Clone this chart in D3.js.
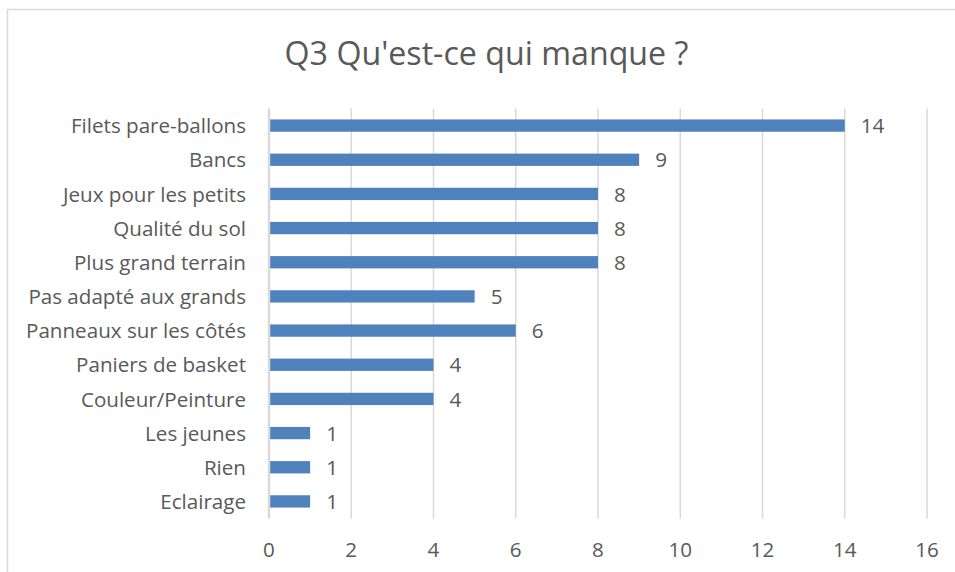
<!DOCTYPE html>
<html>
<head>
<meta charset="utf-8">
<script src="https://cdn.jsdelivr.net/npm/d3@7"></script>
<style>
  body { margin: 0; background: #fff; }
  svg text { font-family: "Open Sans", sans-serif; fill: #595959; }
</style>
</head>
<body>
<div id="chart"></div>
<script>
const categories = ["Filets pare-ballons", "Bancs", "Jeux pour les petits", "Qualité du sol",
  "Plus grand terrain", "Pas adapté aux grands", "Panneaux sur les côtés", "Paniers de basket",
  "Couleur/Peinture", "Les jeunes", "Rien", "Eclairage"];
const counts = [14, 9, 8, 8, 8, 5, 6, 4, 4, 1, 1, 1];
const xTicks = [0, 2, 4, 6, 8, 10, 12, 14, 16];
const title = "Q3 Qu'est-ce qui manque ?";

const W = 955, H = 572;
const plot = {left: 269, right: 927, top: 108.5, bottom: 518.5};
const fs = "20.6px";

const svg = d3.select("#chart").append("svg")
  .attr("width", W).attr("height", H);

// chart border (cut off at right and bottom)
svg.append("path")
  .attr("d", `M7.5,${H + 5} V9.5 H${W + 5}`)
  .attr("fill", "none")
  .attr("stroke", "#d9d9d9")
  .attr("stroke-width", 1.5);

svg.append("text")
  .attr("x", 486.5).attr("y", 64.5)
  .attr("text-anchor", "middle")
  .style("font-size", "32.2px")
  .text(title);

const x = d3.scaleLinear().domain([0, 16]).range([plot.left, plot.right]);
const y = d3.scaleBand().domain(categories).range([plot.top, plot.bottom]).paddingInner(0.64).paddingOuter(0.32);

// gridlines
svg.append("g").selectAll("line")
  .data(xTicks.slice(1))
  .join("line")
  .attr("x1", d => x(d)).attr("x2", d => x(d))
  .attr("y1", plot.top).attr("y2", plot.bottom)
  .attr("stroke", "#d9d9d9").attr("stroke-width", 1.5);

// x tick labels
svg.append("g").selectAll("text")
  .data(xTicks)
  .join("text")
  .attr("x", d => x(d)).attr("y", 556.5)
  .attr("text-anchor", "middle")
  .style("font-size", fs)
  .text(d => d);

// bars
svg.append("g").selectAll("rect")
  .data(counts)
  .join("rect")
  .attr("x", x(0))
  .attr("y", (d, i) => y(categories[i]))
  .attr("width", d => x(d) - x(0))
  .attr("height", y.bandwidth())
  .attr("fill", "#4f81bd");

// data labels
svg.append("g").selectAll("text")
  .data(counts)
  .join("text")
  .attr("x", d => x(d) + 16)
  .attr("y", (d, i) => y(categories[i]) + y.bandwidth() / 2 + 7.6)
  .style("font-size", fs)
  .text(d => d);

// category labels
svg.append("g").selectAll("text")
  .data(categories)
  .join("text")
  .attr("x", plot.left - 23)
  .attr("y", d => y(d) + y.bandwidth() / 2 + 7.6)
  .attr("text-anchor", "end")
  .style("font-size", fs)
  .text(d => d);

// vertical axis line
svg.append("line")
  .attr("x1", x(0)).attr("x2", x(0))
  .attr("y1", plot.top).attr("y2", plot.bottom)
  .attr("stroke", "#d9d9d9").attr("stroke-width", 2.5);
</script>
</body>
</html>
